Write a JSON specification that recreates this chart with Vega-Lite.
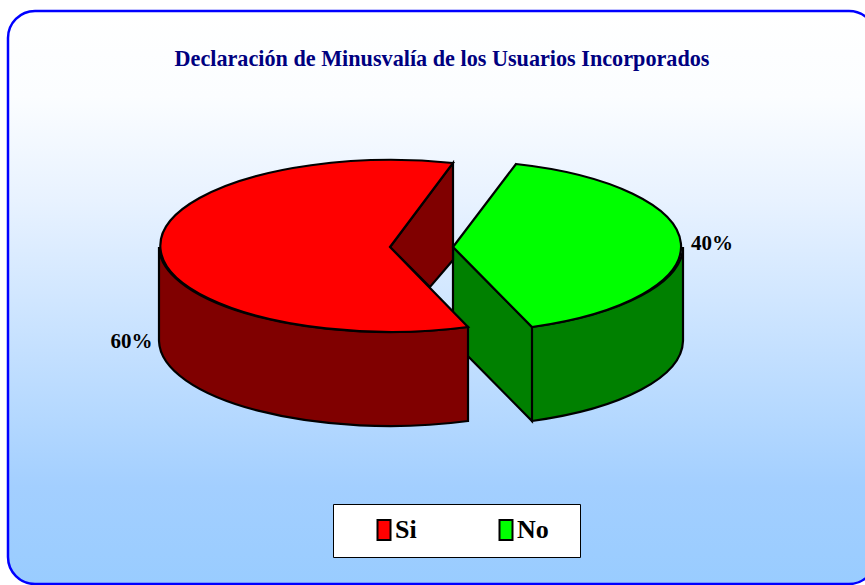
{
"$schema":"https://vega.github.io/schema/vega-lite/v6.json",
"width":868,"height":573,
"autosize":{"type":"none"},
"padding":{"left":8,"top":11,"right":0,"bottom":1},
"background":"white",
"view":{"fill":{"gradient":"linear","x1":0,"y1":0,"x2":0,"y2":1,"stops":[{"offset":0,"color":"#ffffff"},{"offset":0.15,"color":"#fbfdff"},{"offset":0.33,"color":"#e8f2ff"},{"offset":0.71,"color":"#b4d8ff"},{"offset":0.83,"color":"#a3cfff"},{"offset":1,"color":"#99ccff"}]},"stroke":"#0000ff","strokeWidth":2.5,"cornerRadius":27},
"title":{"text":"Declaración de Minusvalía de los Usuarios Incorporados","font":"Liberation Serif","fontSize":22.2,"fontWeight":"bold","color":"#000080","anchor":"middle","frame":"group","baseline":"top","offset":-59,"dx":0},
"data":{"values":[{"label":"No","value":0.4},{"label":"Si","value":0.6}]},
"layer":[
{"mark":{"type":"point","filled":true,"size":4,"stroke":"black","strokeWidth":2.2,"opacity":1},
"encoding":{
"x":{"field":"label","type":"nominal","axis":null,"scale":{"type":"point","padding":0,"domain":["Si","No"],"range":[382,445]}},
"y":{"field":"label","type":"nominal","axis":null,"scale":{"type":"point","padding":0,"domain":["Si","No"],"range":[236,236]}},
"shape":{"field":"label","type":"nominal","legend":null,"scale":{"domain":["Si","No"],"range":["M0 0L63 -84L63 13L40 40ZM-231 0A231 86 0 0 0 78 80L78 174A231 86 0 0 1 -231 94Z","M0 0L79 80L79 174L0 94ZM79 80A230 86 0 0 0 230 0L230 94A230 86 0 0 1 79 174Z"]}},
"fill":{"condition":{"test":"datum.label === 'Si'","value":"#800000"},"value":"#008000"}
}},
{"mark":{"type":"point","filled":true,"size":4,"stroke":"black","strokeWidth":2.2,"opacity":1},
"encoding":{
"x":{"field":"label","type":"nominal","axis":null,"scale":{"type":"point","padding":0,"domain":["Si","No"],"range":[382,445]}},
"y":{"field":"label","type":"nominal","axis":null,"scale":{"type":"point","padding":0,"domain":["Si","No"],"range":[236,236]}},
"shape":{"field":"label","type":"nominal","legend":null,"scale":{"domain":["Si","No"],"range":["M0 0L78 80A231 86 0 1 1 63 -84Z","M0 0L63 -83A230 86 0 0 1 79 80Z"]}},
"fill":{"field":"label","type":"nominal","scale":{"domain":["Si","No"],"range":["#ff0000","#00ff00"]},
"legend":{"orient":"none","legendX":325,"legendY":493,"direction":"horizontal","columns":2,"title":" ","titleOrient":"right","titlePadding":18,"fillColor":"white","strokeColor":"black","padding":13,"symbolOffset":25,"symbolType":"M-0.65 -1H0.65V1H-0.65Z","symbolSize":400,"symbolStrokeColor":"black","symbolStrokeWidth":2,"labelFont":"Liberation Serif","labelFontSize":26,"labelFontWeight":"bold","labelColor":"black","columnPadding":51,"labelOffset":-2}}
}},
{"mark":{"type":"text","font":"Liberation Serif","fontSize":21,"fontWeight":"bold","color":"black"},
"encoding":{
"x":{"field":"label","type":"nominal","axis":null,"scale":{"type":"point","padding":0,"domain":["Si","No"],"range":[123.5,704]}},
"y":{"field":"label","type":"nominal","axis":null,"scale":{"type":"point","padding":0,"domain":["Si","No"],"range":[331,233]}},
"text":{"field":"value","type":"quantitative","format":".0%"}
}}
],
"resolve":{"scale":{"x":"independent","y":"independent","shape":"independent"}}
}
